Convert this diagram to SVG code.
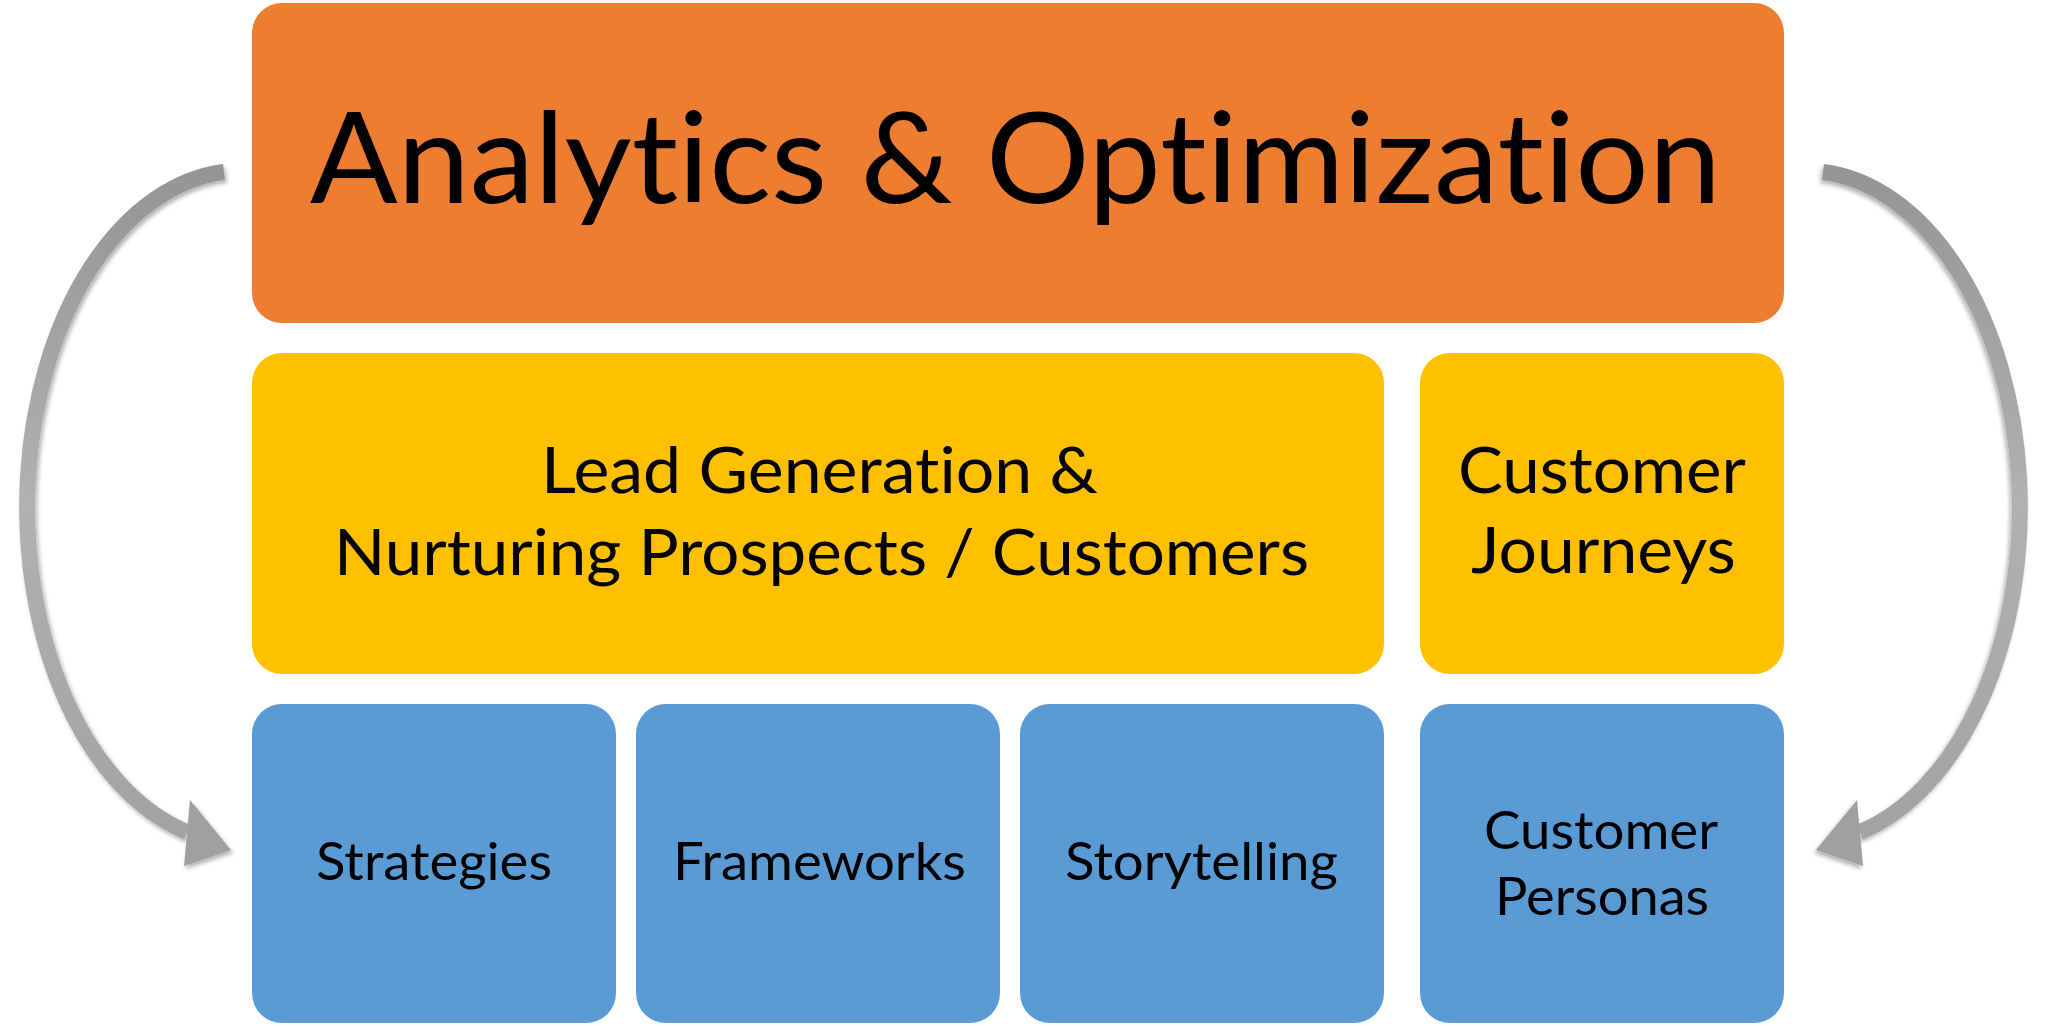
<svg xmlns="http://www.w3.org/2000/svg" width="2048" height="1027" viewBox="0 0 2048 1027">
  <defs>
    <linearGradient id="arrowGrad" x1="0" y1="0" x2="0" y2="1">
      <stop offset="0" stop-color="#959595"/>
      <stop offset="0.5" stop-color="#b1b1b1"/>
      <stop offset="1" stop-color="#a3a3a3"/>
    </linearGradient>
    <filter id="shadow" x="-20%" y="-10%" width="140%" height="120%">
      <feDropShadow dx="2" dy="3" stdDeviation="2" flood-color="#000" flood-opacity="0.3"/>
    </filter>
  </defs>
  <style>
    .box { stroke: none; }
    .orange { fill: #ED7D31; }
    .yellow { fill: #FFC000; }
    .blue { fill: #5B9BD5; }
    .lbl { font-family: Lato, "Open Sans", "Liberation Sans", sans-serif; fill: #000; font-variant-ligatures: none; font-feature-settings: "liga" 0, "clig" 0; }
    .title { font-size: 126px; }
    .mid { font-size: 63px; }
    .small { font-size: 52px; }
    .shaft { fill: none; stroke: url(#arrowGrad); stroke-width: 16; stroke-linecap: butt; }
    .head { fill: #a0a0a0; }
  </style>
  <rect width="2048" height="1027" fill="#ffffff"/>

  <g id="connectors">
    <g id="arrow-left" filter="url(#shadow)">
      <path class="shaft" d="M 224 172 A 214 336 0 0 0 187 832"/>
      <polygon class="head" points="190,800 231,850 184,866"/>
    </g>
    <g id="arrow-right" filter="url(#shadow)" transform="translate(2047,0) scale(-1,1)">
      <path class="shaft" d="M 224 172 A 214 336 0 0 0 187 832"/>
      <polygon class="head" points="190,800 231,850 184,866"/>
    </g>
  </g>

  <g id="node-analytics">
    <rect class="box orange" x="252" y="3" width="1532" height="320" rx="30" ry="30"/>
    <text class="lbl title" x="310" y="203" textLength="1411" lengthAdjust="spacingAndGlyphs">Analytics &amp; Optimization</text>
  </g>

  <g id="node-leadgen">
    <rect class="box yellow" x="252" y="353" width="1132" height="321" rx="30" ry="30"/>
    <text class="lbl mid" x="541" y="493" textLength="557" lengthAdjust="spacingAndGlyphs">Lead Generation &amp;</text>
    <text class="lbl mid" x="334" y="575" textLength="975" lengthAdjust="spacingAndGlyphs">Nurturing Prospects / Customers</text>
  </g>

  <g id="node-journeys">
    <rect class="box yellow" x="1420" y="353" width="364" height="321" rx="30" ry="30"/>
    <text class="lbl mid" x="1458" y="493" textLength="288" lengthAdjust="spacingAndGlyphs">Customer</text>
    <text class="lbl mid" x="1471" y="573" textLength="265" lengthAdjust="spacingAndGlyphs">Journeys</text>
  </g>

  <g id="node-strategies">
    <rect class="box blue" x="252" y="704" width="364" height="319" rx="30" ry="30"/>
    <text class="lbl small" x="316" y="880" textLength="236" lengthAdjust="spacingAndGlyphs">Strategies</text>
  </g>

  <g id="node-frameworks">
    <rect class="box blue" x="636" y="704" width="364" height="319" rx="30" ry="30"/>
    <text class="lbl small" x="673" y="880" textLength="293" lengthAdjust="spacingAndGlyphs">Frameworks</text>
  </g>

  <g id="node-storytelling">
    <rect class="box blue" x="1020" y="704" width="364" height="319" rx="30" ry="30"/>
    <text class="lbl small" x="1065" y="880" textLength="273" lengthAdjust="spacingAndGlyphs">Storytelling</text>
  </g>

  <g id="node-personas">
    <rect class="box blue" x="1420" y="704" width="364" height="319" rx="30" ry="30"/>
    <text class="lbl small" x="1484" y="849" textLength="234" lengthAdjust="spacingAndGlyphs">Customer</text>
    <text class="lbl small" x="1495" y="915" textLength="214" lengthAdjust="spacingAndGlyphs">Personas</text>
  </g>
</svg>
